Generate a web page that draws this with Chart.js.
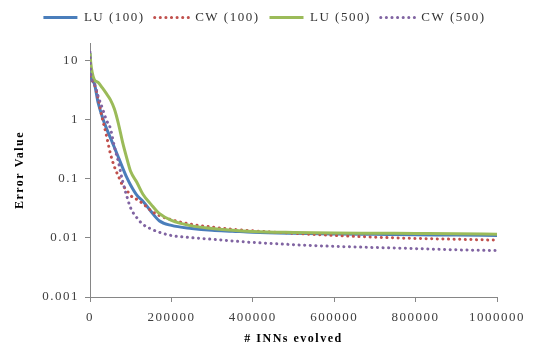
<!DOCTYPE html>
<html>
<head>
<meta charset="utf-8">
<script src="https://cdn.jsdelivr.net/npm/chart.js@4/dist/chart.umd.min.js"></script>
<style>
  html, body { margin: 0; padding: 0; background: #fff; }
  #wrap { width: 533px; height: 347px; }
</style>
</head>
<body>
<div id="wrap"><canvas id="errChart" width="533" height="347"></canvas></div>
<script>
/* ---- Data ---- */
var evals = [0, 2000, 10000, 20000, 30000, 40000, 50000, 60000, 70000, 80000, 90000, 100000,
    115000, 130000, 150000, 170000, 200000, 250000, 300000, 350000, 400000, 500000,
    600000, 700000, 800000, 900000, 1000000];

var luSmall = [13.5, 5.8, 4.2, 1.95, 1.13, 0.73, 0.50, 0.34, 0.23, 0.155, 0.107, 0.078,
    0.053, 0.042, 0.028, 0.0195, 0.0163, 0.0145, 0.0135, 0.0130, 0.0125, 0.0120,
    0.0117, 0.0115, 0.0113, 0.0112, 0.0110];
var cwSmall = [5.5, 5.0, 4.1, 2.3, 1.07, 0.56, 0.27, 0.16, 0.11, 0.078, 0.065, 0.052,
    0.045, 0.038, 0.029, 0.024, 0.0203, 0.017, 0.0153, 0.014, 0.0132, 0.012,
    0.011, 0.0103, 0.0098, 0.0095, 0.0092];
var luLarge = [13.5, 9.0, 4.9, 4.3, 3.5, 2.8, 2.2, 1.52, 0.85, 0.42, 0.23, 0.133,
    0.088, 0.055, 0.037, 0.026, 0.0198, 0.016, 0.0145, 0.0135, 0.0129, 0.0124,
    0.0121, 0.0120, 0.0119, 0.0118, 0.0116];
var cwLarge = [14, 6.0, 4.2, 2.5, 1.6, 1.0, 0.72, 0.35, 0.19, 0.092, 0.052, 0.032,
    0.022, 0.017, 0.0142, 0.0125, 0.011, 0.0101, 0.0095, 0.0089, 0.0084, 0.0077,
    0.0072, 0.0069, 0.0066, 0.0063, 0.0061];

var seriesNames = ['LU (100)', 'CW (100)', 'LU (500)', 'CW (500)'];
var yTicks = [0.001, 0.01, 0.1, 1, 10];
var yTickLabels = ['0.001', '0.01', '0.1', '1', '10'];
var xTicks = [0, 200000, 400000, 600000, 800000, 1000000];
var xTickLabels = ['0', '200000', '400000', '600000', '800000', '1000000'];

/* ---- Helpers ---- */
var AXIS = '#868686';
var SERIF = '"Liberation Serif", "DejaVu Serif", serif';

function pairs(vals) {
    return vals.map(function(v, i) { return { x: evals[i], y: v }; });
}

function solid(label, vals, color, order) {
    return {
        label: label, data: pairs(vals), order: order,
        borderColor: color, backgroundColor: color, borderWidth: 3,
        pointRadius: 0, cubicInterpolationMode: 'monotone', fill: false
    };
}

function dotted(label, vals, color, order) {
    return {
        label: label, data: pairs(vals), order: order,
        borderColor: color, backgroundColor: color, borderWidth: 3,
        borderDash: [0.1, 5.5], borderCapStyle: 'round',
        pointRadius: 0, cubicInterpolationMode: 'monotone', fill: false
    };
}

// wide, Excel/SimSun-like text spacing + compact legend box
var textLook = {
    id: 'textLook',
    afterInit: function(chart) {
        var lg = chart.legend;
        if (!lg) return;
        var fit = lg.fit;
        lg.fit = function() { fit.call(this); this.height = 42; };
    },
    afterLayout: function(chart) {
        // legend in the reference is centred on the whole canvas, not the padded box
        var lg = chart.legend;
        if (!lg) return;
        lg.left += 14; lg.right += 14;
        if (lg.adjustHitBoxes) lg.adjustHitBoxes();
    },
    beforeUpdate: function(chart) { chart.ctx.letterSpacing = '1.5px'; },
    beforeDraw: function(chart) { chart.ctx.letterSpacing = '1.5px'; }
};

new Chart(document.getElementById('errChart').getContext('2d'), {
    type: 'line',
    data: {
        datasets: [
            solid(seriesNames[0], luSmall, '#4a7ebb', 4),
            dotted(seriesNames[1], cwSmall, '#c0504d', 3),
            solid(seriesNames[2], luLarge, '#9bbb59', 2),
            dotted(seriesNames[3], cwLarge, '#8064a2', 1)
        ]
    },
    plugins: [textLook],
    options: {
        responsive: false, animation: false, devicePixelRatio: 1,
        layout: { padding: { top: 1, left: 0, right: 32, bottom: 0 } },
        plugins: {
            tooltip: { enabled: false },
            legend: {
                position: 'top',
                labels: {
                    usePointStyle: true, pointStyle: 'line', pointStyleWidth: 34,
                    boxHeight: 12, padding: 10, color: '#333',
                    font: { family: SERIF, size: 13 },
                    sort: function(a, b) { return a.datasetIndex - b.datasetIndex; },
                    generateLabels: function(chart) {
                        var items = Chart.defaults.plugins.legend.labels.generateLabels(chart);
                        items.forEach(function(it) {
                            var ds = chart.data.datasets[it.datasetIndex];
                            it.lineDash = ds.borderDash || [];
                            it.lineCap = ds.borderCapStyle || 'butt';
                            it.lineWidth = 3;
                        });
                        return items;
                    }
                }
            }
        },
        scales: {
            x: {
                type: 'linear', min: 0, max: 1000000,
                afterFit: function(s) { s.height = 50; },
                afterBuildTicks: function(s) { s.ticks = xTicks.map(function(v) { return { value: v }; }); },
                ticks: {
                    color: '#404040', padding: 8, maxRotation: 0, autoSkip: false,
                    font: { family: SERIF, size: 13 },
                    callback: function(v, i) { return xTickLabels[i]; }
                },
                grid: { display: true, drawOnChartArea: false, color: AXIS, tickLength: 5 },
                border: { color: AXIS, width: 1 },
                title: {
                    display: true, text: '# INNs evolved', color: '#000',
                    font: { family: SERIF, size: 12, weight: 'bold' },
                    padding: { top: 0, bottom: 1 }
                }
            },
            y: {
                type: 'logarithmic', min: 0.001, max: 20,
                afterFit: function(s) { s.width = 90; },
                afterBuildTicks: function(s) { s.ticks = yTicks.map(function(v) { return { value: v }; }); },
                ticks: {
                    color: '#404040', padding: 6, autoSkip: false,
                    font: { family: SERIF, size: 13 },
                    callback: function(v, i) { return yTickLabels[i]; }
                },
                grid: { display: true, drawOnChartArea: false, color: AXIS, tickLength: 5 },
                border: { color: AXIS, width: 1 },
                title: {
                    display: true, text: 'Error Value', color: '#000',
                    font: { family: SERIF, size: 12, weight: 'bold' },
                    padding: { top: 13, bottom: 0 }
                }
            }
        }
    }
});
</script>
</body>
</html>
